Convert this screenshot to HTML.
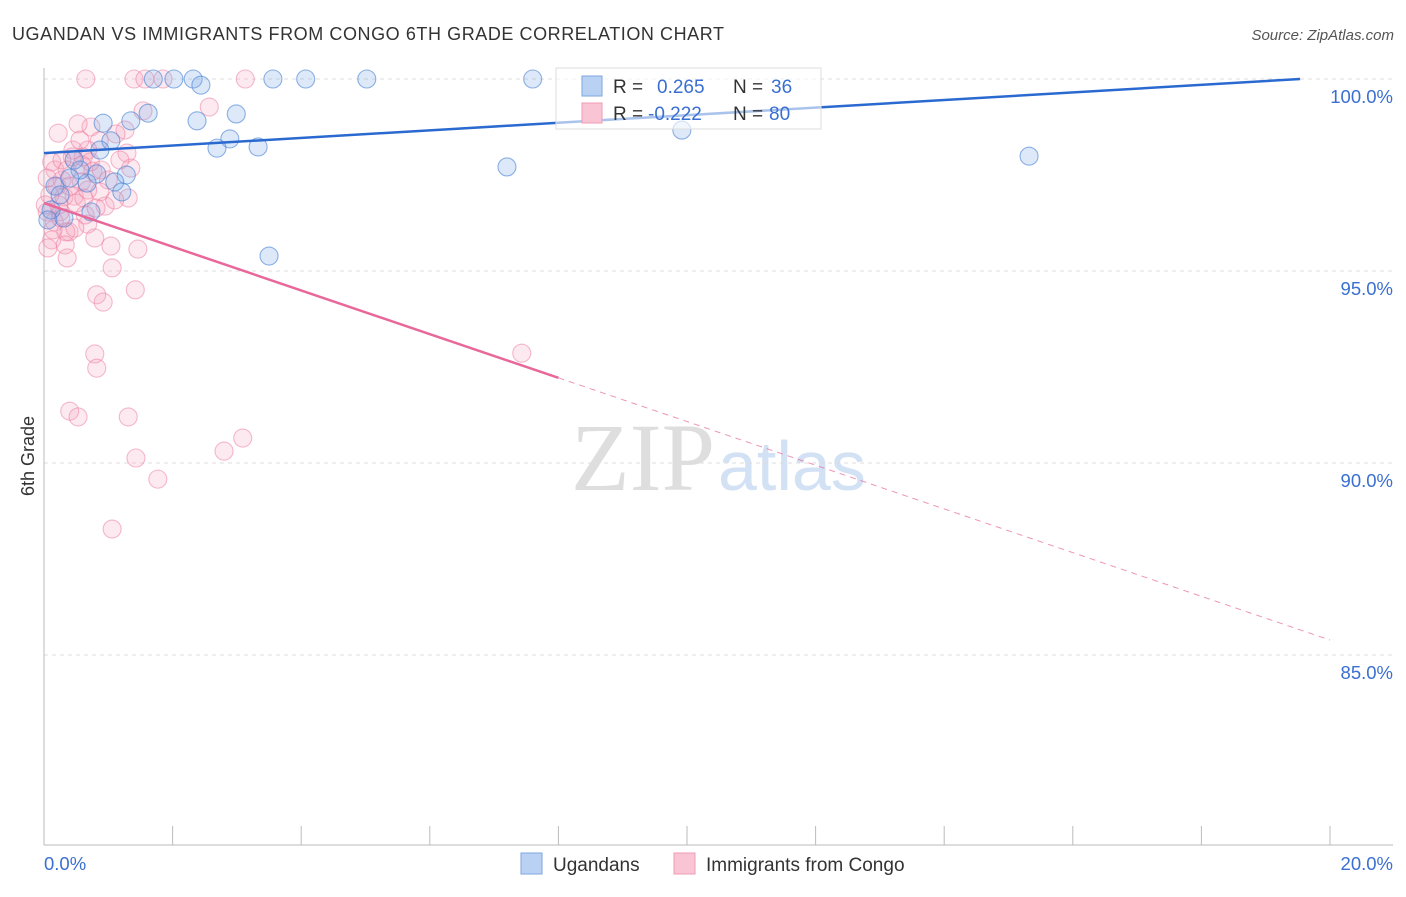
<!DOCTYPE html>
<html><head><meta charset="utf-8"><style>
body{margin:0;background:#fff;font-family:"Liberation Sans",sans-serif}
</style></head><body>
<svg id="chart" width="1406" height="892" font-family="Liberation Sans, sans-serif">
<text x="12" y="40" font-size="18" fill="#333" textLength="712">UGANDAN VS IMMIGRANTS FROM CONGO 6TH GRADE CORRELATION CHART</text>
<text x="1394" y="40" font-size="15" fill="#555" text-anchor="end" font-style="italic">Source: ZipAtlas.com</text>
<text x="715" y="490" font-size="96" fill="#dedede" text-anchor="end" style="font-family:'Liberation Serif',serif">ZIP</text>
<text x="718" y="490" font-size="70" fill="#d3e1f5">atlas</text>
<g id="grid"></g><g id="axes"></g><g id="pts"></g><g id="lines"></g>
<text transform="translate(34,456) rotate(-90)" font-size="18" fill="#333" text-anchor="middle">6th Grade</text>
<g>
<rect x="556" y="68" width="265" height="61" fill="#fff" fill-opacity="0.6" stroke="#ddd"/>
<rect x="582" y="76" width="20" height="20" fill="#b9d2f3" stroke="#7ea6e0"/>
<rect x="582" y="103" width="20" height="20" fill="#f9c5d4" stroke="#f09ab3"/>
<text x="613" y="93" font-size="19" fill="#333">R =</text><text x="657" y="93" font-size="19" fill="#3a6fd1">0.265</text>
<text x="733" y="93" font-size="19" fill="#333">N =</text><text x="771" y="93" font-size="19" fill="#3a6fd1">36</text>
<text x="613" y="120" font-size="19" fill="#333">R =</text><text x="648" y="120" font-size="19" fill="#3a6fd1">-0.222</text>
<text x="733" y="120" font-size="19" fill="#333">N =</text><text x="769" y="120" font-size="19" fill="#3a6fd1">80</text>
</g>
<g>
<rect x="521" y="853" width="21" height="21" fill="#b9d2f3" stroke="#7ea6e0"/>
<text x="553" y="871" font-size="19" fill="#333">Ugandans</text>
<rect x="674" y="853" width="21" height="21" fill="#f9c5d4" stroke="#f09ab3"/>
<text x="706" y="871" font-size="19" fill="#333">Immigrants from Congo</text>
</g>
</svg>
<script>
const yTicks=[100,95,90,85];
const yTickLabels=["100.0%","95.0%","90.0%","85.0%"];
const xTickLabels=["0.0%","20.0%"];
const blueX=[1.70,2.02,2.32,2.44,3.56,4.07,5.02,7.60,1.62,2.99,1.35,0.92,2.38,2.89,1.04,2.69,3.33,0.47,7.20,9.92,15.32,0.82,1.28,1.10,0.67,0.17,1.21,0.73,0.31,0.11,3.50,0.56,0.25,0.40,0.87,0.06];
const blueY=[100,100,100,99.84,100,100,100,100,99.11,99.09,98.91,98.85,98.91,98.44,98.39,98.20,98.23,97.89,97.71,98.67,97.99,97.53,97.50,97.32,97.29,97.21,97.06,96.54,96.38,96.59,95.39,97.63,96.98,97.42,98.15,96.33];
const pinkX=[0.65,1.40,1.57,1.85,3.13,1.54,2.57,0.22,1.26,0.73,0.53,0.61,1.29,0.86,0.68,1.35,0.44,0.12,0.76,0.36,0.58,0.87,1.31,0.95,0.31,0.47,0.25,0.05,0.16,0.68,0.39,0.79,0.12,0.06,1.04,1.46,0.36,1.06,0.82,0.92,1.42,0.79,0.82,0.40,0.53,1.31,1.43,1.77,2.80,3.09,1.06,7.43,0.28,0.17,0.50,0.64,0.20,0.09,0.34,0.45,0.72,0.89,1.12,1.00,0.56,0.23,0.62,0.05,0.28,0.40,0.81,0.14,0.48,1.10,0.33,0.68,1.18,0.02,0.26,0.59];
const pinkY=[100,100,100,100,100,99.17,99.27,98.59,98.67,98.75,98.83,97.97,98.07,98.39,98.15,97.68,97.97,97.84,97.60,97.63,97.32,97.06,96.90,96.69,96.93,96.95,96.54,96.54,96.28,96.22,96.02,95.86,95.81,95.60,95.65,95.57,95.34,95.08,94.38,94.19,94.51,92.84,92.47,91.35,91.20,91.20,90.13,89.58,90.31,90.65,88.28,92.86,97.37,97.63,96.77,96.46,97.21,96.98,96.02,98.15,97.84,97.63,98.57,97.37,98.41,96.72,96.90,97.42,97.89,97.21,96.64,96.07,96.12,96.85,95.68,97.11,97.89,96.72,96.38,97.76];
const blueTrend=[98.07,0.0988];
const pinkTrend=[96.77,-0.569];
const NS="http://www.w3.org/2000/svg";
const sx=v=>44+v*64.3, sy=v=>79+(100-v)*38.4;
function mk(t,a,p){const e=document.createElementNS(NS,t);for(const k in a)e.setAttribute(k,a[k]);p.appendChild(e);return e;}
const grid=document.getElementById('grid'),axes=document.getElementById('axes'),pts=document.getElementById('pts'),lines=document.getElementById('lines');
yTicks.forEach((t,i)=>{
 const g=mk('line',{x1:44,x2:1393,y1:sy(t),y2:sy(t),stroke:'#ddd','stroke-dasharray':'4,4'},grid);
 
 
 const l=mk('text',{x:1393,y:sy(t)+24,'font-size':18.5,fill:'#3a6fd1','text-anchor':'end'},axes);
 l.textContent=yTickLabels[i];
 
 
});
const ya=mk('line',{x1:44,x2:44,y1:68,y2:845,stroke:'#bbb'},axes);


const xa=mk('line',{x1:44,x2:1393,y1:845,y2:845,stroke:'#bbb'},axes);


for(let i=0;i<=20;i+=2){
 const t=mk('line',{x1:sx(i),x2:sx(i),y1:826,y2:845,stroke:'#bbb'},axes);
 
 
}
[[0,'start'],[20,'end']].forEach((d,i)=>{
 const l=mk('text',{x:d[0]==0?44:1393,y:870,'font-size':18.5,fill:'#3a6fd1','text-anchor':d[1]},axes);
 l.textContent=xTickLabels[i];
 
 
});
function dots(X,Y,fill,stroke,name){
 X.forEach((x,i)=>{
  const c=mk('circle',{cx:sx(x),cy:sy(Y[i]),r:9,fill:fill,stroke:stroke,'stroke-width':1.1},pts);
  
  
 });
}
dots(pinkX,pinkY,'rgba(244,160,188,0.22)','rgba(236,130,162,0.55)','congo-point');
dots(blueX,blueY,'rgba(120,168,232,0.25)','rgba(70,128,212,0.6)','ugandan-point');
const bx2=(100-blueTrend[0])/blueTrend[1];
const bl=mk('line',{x1:sx(0),y1:sy(blueTrend[0]),x2:sx(bx2),y2:sy(100),stroke:'#2a6ad0','stroke-width':2.5},lines);


const pl=mk('line',{x1:sx(0),y1:sy(pinkTrend[0]),x2:sx(8),y2:sy(pinkTrend[0]+8*pinkTrend[1]),stroke:'#e8689a','stroke-width':2.5},lines);


const pd=mk('line',{x1:sx(8),y1:sy(pinkTrend[0]+8*pinkTrend[1]),x2:sx(20),y2:sy(pinkTrend[0]+20*pinkTrend[1]),stroke:'#e8689a','stroke-width':1,'stroke-dasharray':'6,5',opacity:0.7},lines);


</script>
</body></html>
